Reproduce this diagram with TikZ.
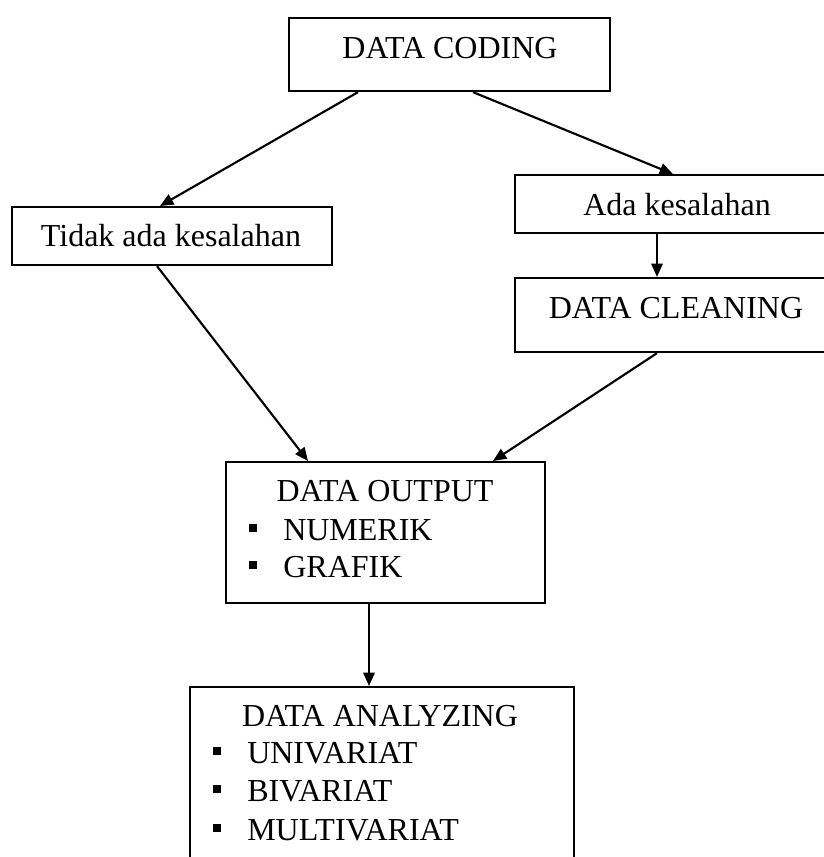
\documentclass[tikz,border=0pt]{standalone}
\usepackage{fontspec}
\setmainfont{Liberation Serif}
\usetikzlibrary{arrows.meta}
\begin{document}
\begin{tikzpicture}[x=0.75pt,y=-0.75pt,
  box/.style={draw=black,line width=1.6pt,rectangle,inner sep=0pt,anchor=north west},
  lbl/.style={font=\fontsize{24}{28}\selectfont,inner sep=0pt},
  sq/.style={fill=black,rectangle,minimum size=6pt,inner sep=0pt},
  arr/.style={line width=1.6pt,-{Triangle[length=10pt,width=8.5pt]}}]
\useasboundingbox (0,0) rectangle (824,857);
\clip (0,0) rectangle (824,857);
% boxes
\node[box,minimum width={321*0.75pt},minimum height={73*0.75pt}] (coding) at (288,17) {};
\node[box,minimum width={320*0.75pt},minimum height={58*0.75pt}] (tidak) at (11,206) {};
\node[box,minimum width={330*0.75pt},minimum height={58*0.75pt}] (ada) at (514,174) {};
\node[box,minimum width={330*0.75pt},minimum height={74*0.75pt}] (cleaning) at (514,277) {};
\node[box,minimum width={319*0.75pt},minimum height={141*0.75pt}] (output) at (225,461) {};
\node[box,minimum width={384*0.75pt},minimum height={220*0.75pt}] (analyzing) at (189,686) {};
% texts
\node[lbl] (tcoding) at (450,48) {DATA CODING};
\node[lbl] (ttidak) at (171,236) {Tidak ada kesalahan};
\node[lbl] (tada) at (677,205) {Ada kesalahan};
\node[lbl] (tcleaning) at (676,308) {DATA CLEANING};
\node[lbl] (toutput) at (385,491) {DATA OUTPUT};
\node[sq] (b1) at (253,528) {};
\node[lbl,anchor=west] (tnum) at (283,530) {NUMERIK};
\node[sq] (b2) at (253,565) {};
\node[lbl,anchor=west] (tgraf) at (283,567) {GRAFIK};
\node[lbl] (tanalyzing) at (380,716) {DATA ANALYZING};
\node[sq] (b3) at (217,751) {};
\node[lbl,anchor=west] (tuni) at (247,753) {UNIVARIAT};
\node[sq] (b4) at (217,789) {};
\node[lbl,anchor=west] (tbi) at (247,791) {BIVARIAT};
\node[sq] (b5) at (217,828) {};
\node[lbl,anchor=west] (tmulti) at (247,830) {MULTIVARIAT};
% connectors
\draw[arr] ([xshift=52.5pt]coding.south west) -- ([xshift=111.75pt]tidak.north west);
\draw[arr] ([xshift=138.75pt]coding.south west) -- ([xshift=119.25pt]ada.north west);
\draw[arr] ([xshift=107.25pt]ada.south west) -- ([xshift=107.25pt]cleaning.north west);
\draw[arr] ([xshift=109.5pt]tidak.south west) -- ([xshift=62.25pt]output.north west);
\draw[arr] ([xshift=107.25pt]cleaning.south west) -- ([xshift=201pt]output.north west);
\draw[arr] ([xshift=108pt]output.south west) -- ([xshift=135pt]analyzing.north west);
\end{tikzpicture}
\end{document}
